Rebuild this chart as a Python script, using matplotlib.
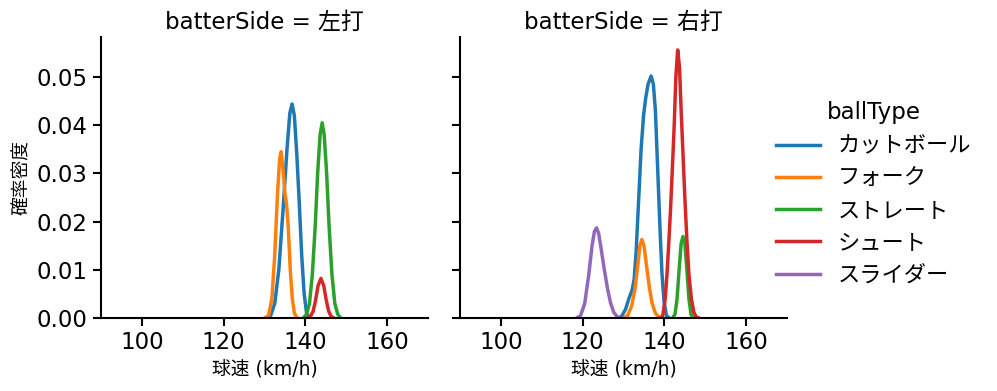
import matplotlib
matplotlib.use("Agg")
import matplotlib.pyplot as plt

plt.rcParams['font.family'] = ['DejaVu Sans', 'Noto Sans CJK JP']

panels = ["左打", "右打"]
ball_types = ["カットボール", "フォーク", "ストレート", "シュート", "スライダー"]
colors = ["#1f77b4", "#ff7f0e", "#2ca02c", "#d62728", "#9467bd"]

# KDE curves: speed (km/h) and density
left_cut_x = [130.5, 131.5, 132.5, 133.5, 134.5, 135.5, 136.2, 136.75, 137.3, 137.9, 138.5, 139.1, 139.7, 140.3, 141.0]
left_cut_y = [0, 0.0005, 0.003, 0.010, 0.022, 0.035, 0.0425, 0.0444, 0.0420, 0.034, 0.024, 0.013, 0.005, 0.001, 0]
left_fork_x = [130.0, 131.0, 131.8, 132.5, 133.2, 133.7, 134.07, 134.5, 135.0, 135.4, 135.8, 136.3, 136.8, 137.3, 138.0]
left_fork_y = [0, 0.0005, 0.004, 0.013, 0.026, 0.033, 0.0345, 0.031, 0.026, 0.0235, 0.019, 0.010, 0.004, 0.001, 0]
left_str_x = [139.5, 140.3, 141.0, 141.7, 142.4, 143.0, 143.6, 144.1, 144.6, 145.2, 145.8, 146.5, 147.2, 147.9, 148.6]
left_str_y = [0, 0.0008, 0.003, 0.009, 0.019, 0.030, 0.038, 0.0405, 0.038, 0.030, 0.019, 0.009, 0.003, 0.0008, 0]
left_sht_x = [140.5, 141.2, 141.9, 142.5, 143.1, 143.8, 144.5, 145.1, 145.7, 146.3, 147.0]
left_sht_y = [0, 0.0003, 0.0014, 0.0037, 0.0067, 0.0082, 0.0067, 0.0037, 0.0014, 0.0003, 0]

right_cut_x = [128.5, 129.5, 130.5, 131.3, 132.1, 132.6, 133.1, 133.7, 134.3, 134.9, 135.4, 136.0, 136.75, 137.3, 137.8, 138.4, 138.9, 139.4, 139.9, 140.5, 141.2]
right_cut_y = [0, 0.0003, 0.0018, 0.0040, 0.0058, 0.008, 0.014, 0.0245, 0.035, 0.042, 0.0455, 0.0485, 0.0502, 0.0485, 0.043, 0.030, 0.019, 0.0093, 0.0035, 0.0005, 0]
right_fork_x = [130.0, 131.0, 132.0, 132.8, 133.5, 134.0, 134.5, 135.0, 135.6, 136.3, 137.0, 137.8, 138.6, 139.3]
right_fork_y = [0, 0.0005, 0.0025, 0.006, 0.011, 0.015, 0.0163, 0.0150, 0.011, 0.0065, 0.003, 0.001, 0.0002, 0]
right_str_x = [142.0, 142.6, 143.1, 143.6, 144.1, 144.55, 145.0, 145.5, 146.0, 146.5, 147.0]
right_str_y = [0, 0.0008, 0.004, 0.010, 0.0155, 0.0169, 0.0155, 0.010, 0.004, 0.0008, 0]
right_sht_x = [139.0, 139.6, 140.2, 140.65, 141.1, 141.5, 142.0, 142.4, 142.8, 143.25, 143.7, 144.1, 144.5, 145.0, 145.5, 146.0, 146.6, 147.2, 147.8, 148.5]
right_sht_y = [0, 0.0005, 0.004, 0.0093, 0.016, 0.0225, 0.032, 0.040, 0.050, 0.0556, 0.052, 0.043, 0.035, 0.025, 0.0162, 0.009, 0.004, 0.0012, 0.0002, 0]
right_sld_x = [118.5, 119.5, 120.5, 121.5, 122.3, 122.9, 123.4, 123.9, 124.5, 125.2, 126.0, 126.8, 127.6, 128.5, 129.3]
right_sld_y = [0, 0.0005, 0.003, 0.009, 0.015, 0.0180, 0.0187, 0.0176, 0.0145, 0.0106, 0.0065, 0.0032, 0.0012, 0.0002, 0]

curves = {
    "左打": {"カットボール": (left_cut_x, left_cut_y),
             "フォーク": (left_fork_x, left_fork_y),
             "ストレート": (left_str_x, left_str_y),
             "シュート": (left_sht_x, left_sht_y)},
    "右打": {"カットボール": (right_cut_x, right_cut_y),
             "フォーク": (right_fork_x, right_fork_y),
             "ストレート": (right_str_x, right_str_y),
             "シュート": (right_sht_x, right_sht_y),
             "スライダー": (right_sld_x, right_sld_y)},
}

xticks = [100, 120, 140, 160]
yticks = [0.00, 0.01, 0.02, 0.03, 0.04, 0.05]

fig = plt.figure(figsize=(9.97, 3.91), dpi=100)
ax1 = fig.add_axes([0.1013, 0.1867, 0.328, 0.7187])
ax2 = fig.add_axes([0.4614, 0.1867, 0.328, 0.7187], sharey=ax1)
axes = [ax1, ax2]

for ax, side in zip(axes, panels):
    for bt, c in zip(ball_types, colors):
        if bt in curves[side]:
            xs, ys = curves[side][bt]
            ax.plot(xs, ys, color=c, lw=2.5, solid_capstyle='round')
    ax.set_xlim(90, 170)
    ax.set_ylim(0, 0.0583)
    ax.set_xticks(xticks)
    ax.set_yticks(yticks)
    ax.set_yticklabels([f"{v:.2f}" for v in yticks])
    ax.spines['top'].set_visible(False)
    ax.spines['right'].set_visible(False)
    for s in ['left', 'bottom']:
        ax.spines[s].set_linewidth(1.5)
    ax.tick_params(axis='both', labelsize=16.5, width=1.5, length=6, direction='out')
    ax.set_title(f"batterSide = {side}", fontsize=16.5)
    ax.set_xlabel("球速 (km/h)", fontsize=13.5)

ax1.set_ylabel("確率密度", fontsize=13.5)
ax2.tick_params(axis='y', labelleft=False)

handles = [plt.Line2D([0], [0], color=c, lw=2.5) for c in colors]
leg = fig.legend(handles, ball_types, title="ballType", loc='center left',
                 bbox_to_anchor=(0.758, 0.505), frameon=False, fontsize=16,
                 title_fontsize=16.5, handlelength=2.0, labelspacing=0.55)

fig.savefig("out.png", dpi=100)
